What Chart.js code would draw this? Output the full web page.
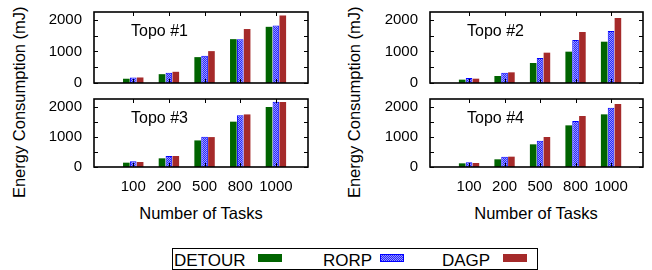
<!DOCTYPE html>
<html><head><meta charset="utf-8">
<script src="https://cdn.jsdelivr.net/npm/chart.js@4/dist/chart.umd.min.js"></script>
<style>
html,body{margin:0;padding:0;background:#fff;}
#wrap{position:relative;width:652px;height:270px;overflow:hidden;font-family:"Liberation Sans","DejaVu Sans",sans-serif;color:#000;}
canvas{position:absolute;}
.t{position:absolute;white-space:nowrap;font-size:16.5px;line-height:16.5px;height:16.5px;text-align:center;}
.r{transform:rotate(-90deg);}
.sw{position:absolute;height:7px;}
</style></head><body>
<div id="wrap">
<canvas id="c1" width="275" height="92" style="left:40px;top:0px;width:275px;height:92px"></canvas>
<canvas id="c3" width="275" height="110" style="left:40px;top:92px;width:275px;height:110px"></canvas>
<canvas id="c2" width="278" height="92" style="left:370px;top:0px;width:278px;height:92px"></canvas>
<canvas id="c4" width="278" height="110" style="left:370px;top:92px;width:278px;height:110px"></canvas>
<div class="t r" style="left:-91px;top:94px;width:220px">Energy Consumption (mJ)</div>
<div class="t r" style="left:244px;top:94px;width:220px">Energy Consumption (mJ)</div>
<div class="t" style="left:101px;top:205px;width:200px">Number of Tasks</div>
<div class="t" style="left:436px;top:205px;width:200px">Number of Tasks</div>
<div id="legend" style="position:absolute;left:172px;top:248px;width:364px;height:20px;border:1px solid #000;"></div>
</div>
<script>
const categories = ['100', '200', '500', '800', '1000'];
const seriesNames = ['DETOUR', 'RORP', 'DAGP'];
const yTicks = [0, 500, 1000, 1500, 2000];
const topoTitles = ['Topo #1', 'Topo #2', 'Topo #3', 'Topo #4'];

const topo1Detour = [135, 280, 820, 1390, 1780];
const topo1Rorp   = [175, 325, 860, 1390, 1820];
const topo1Dagp   = [175, 355, 1010, 1710, 2140];

const topo2Detour = [106, 222, 634, 993, 1309];
const topo2Rorp   = [158, 327, 792, 1362, 1647];
const topo2Dagp   = [137, 338, 961, 1616, 2059];

const topo3Detour = [143, 287, 880, 1500, 1985];
const topo3Rorp   = [187, 364, 1000, 1710, 2160];
const topo3Dagp   = [165, 364, 990, 1740, 2150];

const topo4Detour = [121, 254, 750, 1378, 1742];
const topo4Rorp   = [154, 342, 871, 1521, 1962];
const topo4Dagp   = [132, 342, 992, 1687, 2084];

const FONT = '"Liberation Sans", "DejaVu Sans", sans-serif';
const GREEN = '#006400', BLUE = '#0000ff', RED = '#a52a2a';

function bluePattern() {
  const c = document.createElement('canvas'); c.width = 2; c.height = 2;
  const g = c.getContext('2d');
  g.fillStyle = '#2424ff'; g.fillRect(0, 0, 2, 2);
  g.fillStyle = '#9a9aff'; g.fillRect(0, 0, 1, 1); g.fillRect(1, 1, 1, 1);
  return g.createPattern(c, 'repeat');
}
const PAT = bluePattern();

const framePlugin = {
  id: 'frame',
  afterDatasetsDraw(chart, args, opts) {
    const { ctx, chartArea: a, scales: { x, y } } = chart;
    ctx.save();
    ctx.strokeStyle = '#000';
    ctx.lineWidth = 1;
    ctx.beginPath();
    categories.forEach((c, i) => {
      const px = Math.round(x.getPixelForValue(i)) + 0.5;
      ctx.moveTo(px, a.bottom); ctx.lineTo(px, a.bottom - 4);
      ctx.moveTo(px, a.top); ctx.lineTo(px, a.top + 4);
    });
    yTicks.forEach(v => {
      const py = Math.round(y.getPixelForValue(v)) + 0.5;
      ctx.moveTo(a.left, py); ctx.lineTo(a.left + 4, py);
      ctx.moveTo(a.right, py); ctx.lineTo(a.right - 4, py);
    });
    ctx.stroke();
    ctx.lineWidth = 1.6;
    ctx.strokeRect(a.left, a.top, a.right - a.left, a.bottom - a.top);
    ctx.font = '16px ' + FONT;
    ctx.fillStyle = '#000';
    ctx.textBaseline = 'middle';
    ctx.textAlign = 'left';
    ctx.fillText(opts.label, a.left + 37, a.top + 20);
    ctx.restore();
  }
};

function makeChart(id, title, detour, rorp, dagp, cfg) {
  const pts = arr => arr.map((v, i) => ({ x: i, y: v }));
  new Chart(document.getElementById(id), {
    type: 'bar',
    data: {
      datasets: [
        { label: seriesNames[0], data: pts(detour), backgroundColor: GREEN, borderWidth: 0 },
        { label: seriesNames[1], data: pts(rorp), backgroundColor: PAT, borderColor: BLUE, borderWidth: 1 },
        { label: seriesNames[2], data: pts(dagp), backgroundColor: RED, borderWidth: 0 }
      ]
    },
    options: {
      responsive: false,
      animation: false,
      events: [],
      categoryPercentage: 0.58,
      barPercentage: 0.96,
      layout: { padding: { top: cfg.pt, right: cfg.pr, bottom: cfg.pb, left: 0 } },
      plugins: { legend: { display: false }, tooltip: { enabled: false }, frame: { label: title } },
      scales: {
        x: {
          type: 'linear', min: -1.1, max: 4.9, offset: false, display: cfg.showX,
          grid: { display: false, offset: false, drawTicks: true, tickLength: 11 }, border: { display: false },
          afterBuildTicks: s => { s.ticks = categories.map((c, i) => ({ value: i })); },
          afterFit: s => { s.height = cfg.xh; s.paddingLeft = 0; s.paddingRight = 0; },
          ticks: {
            autoSkip: false, maxRotation: 0, minRotation: 0, padding: 0, color: '#000',
            font: { family: FONT, size: 15 },
            callback: (v, i) => categories[i]
          }
        },
        y: {
          min: 0, max: 2250,
          grid: { display: false, drawTicks: true, tickLength: 12 }, border: { display: false },
          afterBuildTicks: s => { s.ticks = yTicks.map(v => ({ value: v })); },
          afterFit: s => { s.width = cfg.yw; s.paddingTop = 0; s.paddingBottom = 0; },
          ticks: { padding: 0, color: '#000', font: { family: FONT, size: 15 }, callback: v => String(v) }
        }
      }
    },
    plugins: [framePlugin]
  });
}

makeChart('c1', topoTitles[0], topo1Detour, topo1Rorp, topo1Dagp, { pt: 12, pr: 7, pb: 9, yw: 54, showX: false, xh: 0 });
makeChart('c3', topoTitles[2], topo3Detour, topo3Rorp, topo3Dagp, { pt: 7, pr: 7, pb: 0, yw: 54, showX: true, xh: 35 });
makeChart('c2', topoTitles[1], topo2Detour, topo2Rorp, topo2Dagp, { pt: 12, pr: 5, pb: 9, yw: 60, showX: false, xh: 0 });
makeChart('c4', topoTitles[3], topo4Detour, topo4Rorp, topo4Dagp, { pt: 7, pr: 5, pb: 0, yw: 60, showX: true, xh: 35 });

// legend (text then swatch, like the original key)
const legendItems = [
  { name: seriesNames[0], tx: 1, sx: 85, style: 'background:' + GREEN },
  { name: seriesNames[1], tx: 150, sx: 207, style: 'background:repeating-conic-gradient(#2424ff 0 25%, #9a9aff 0 50%) 0 0/2px 2px;border:1px solid ' + BLUE + ';box-sizing:border-box' },
  { name: seriesNames[2], tx: 269, sx: 330, style: 'background:' + RED }
];
const lg = document.getElementById('legend');
legendItems.forEach(it => {
  const t = document.createElement('div');
  t.style.cssText = 'position:absolute;left:' + it.tx + 'px;top:3px;font-size:17px;line-height:17px;white-space:nowrap;';
  t.textContent = it.name;
  lg.appendChild(t);
  const s = document.createElement('div');
  s.className = 'sw';
  s.style.cssText += 'left:' + it.sx + 'px;top:5px;width:24px;height:8px;' + it.style;
  lg.appendChild(s);
});
</script>
</body></html>
